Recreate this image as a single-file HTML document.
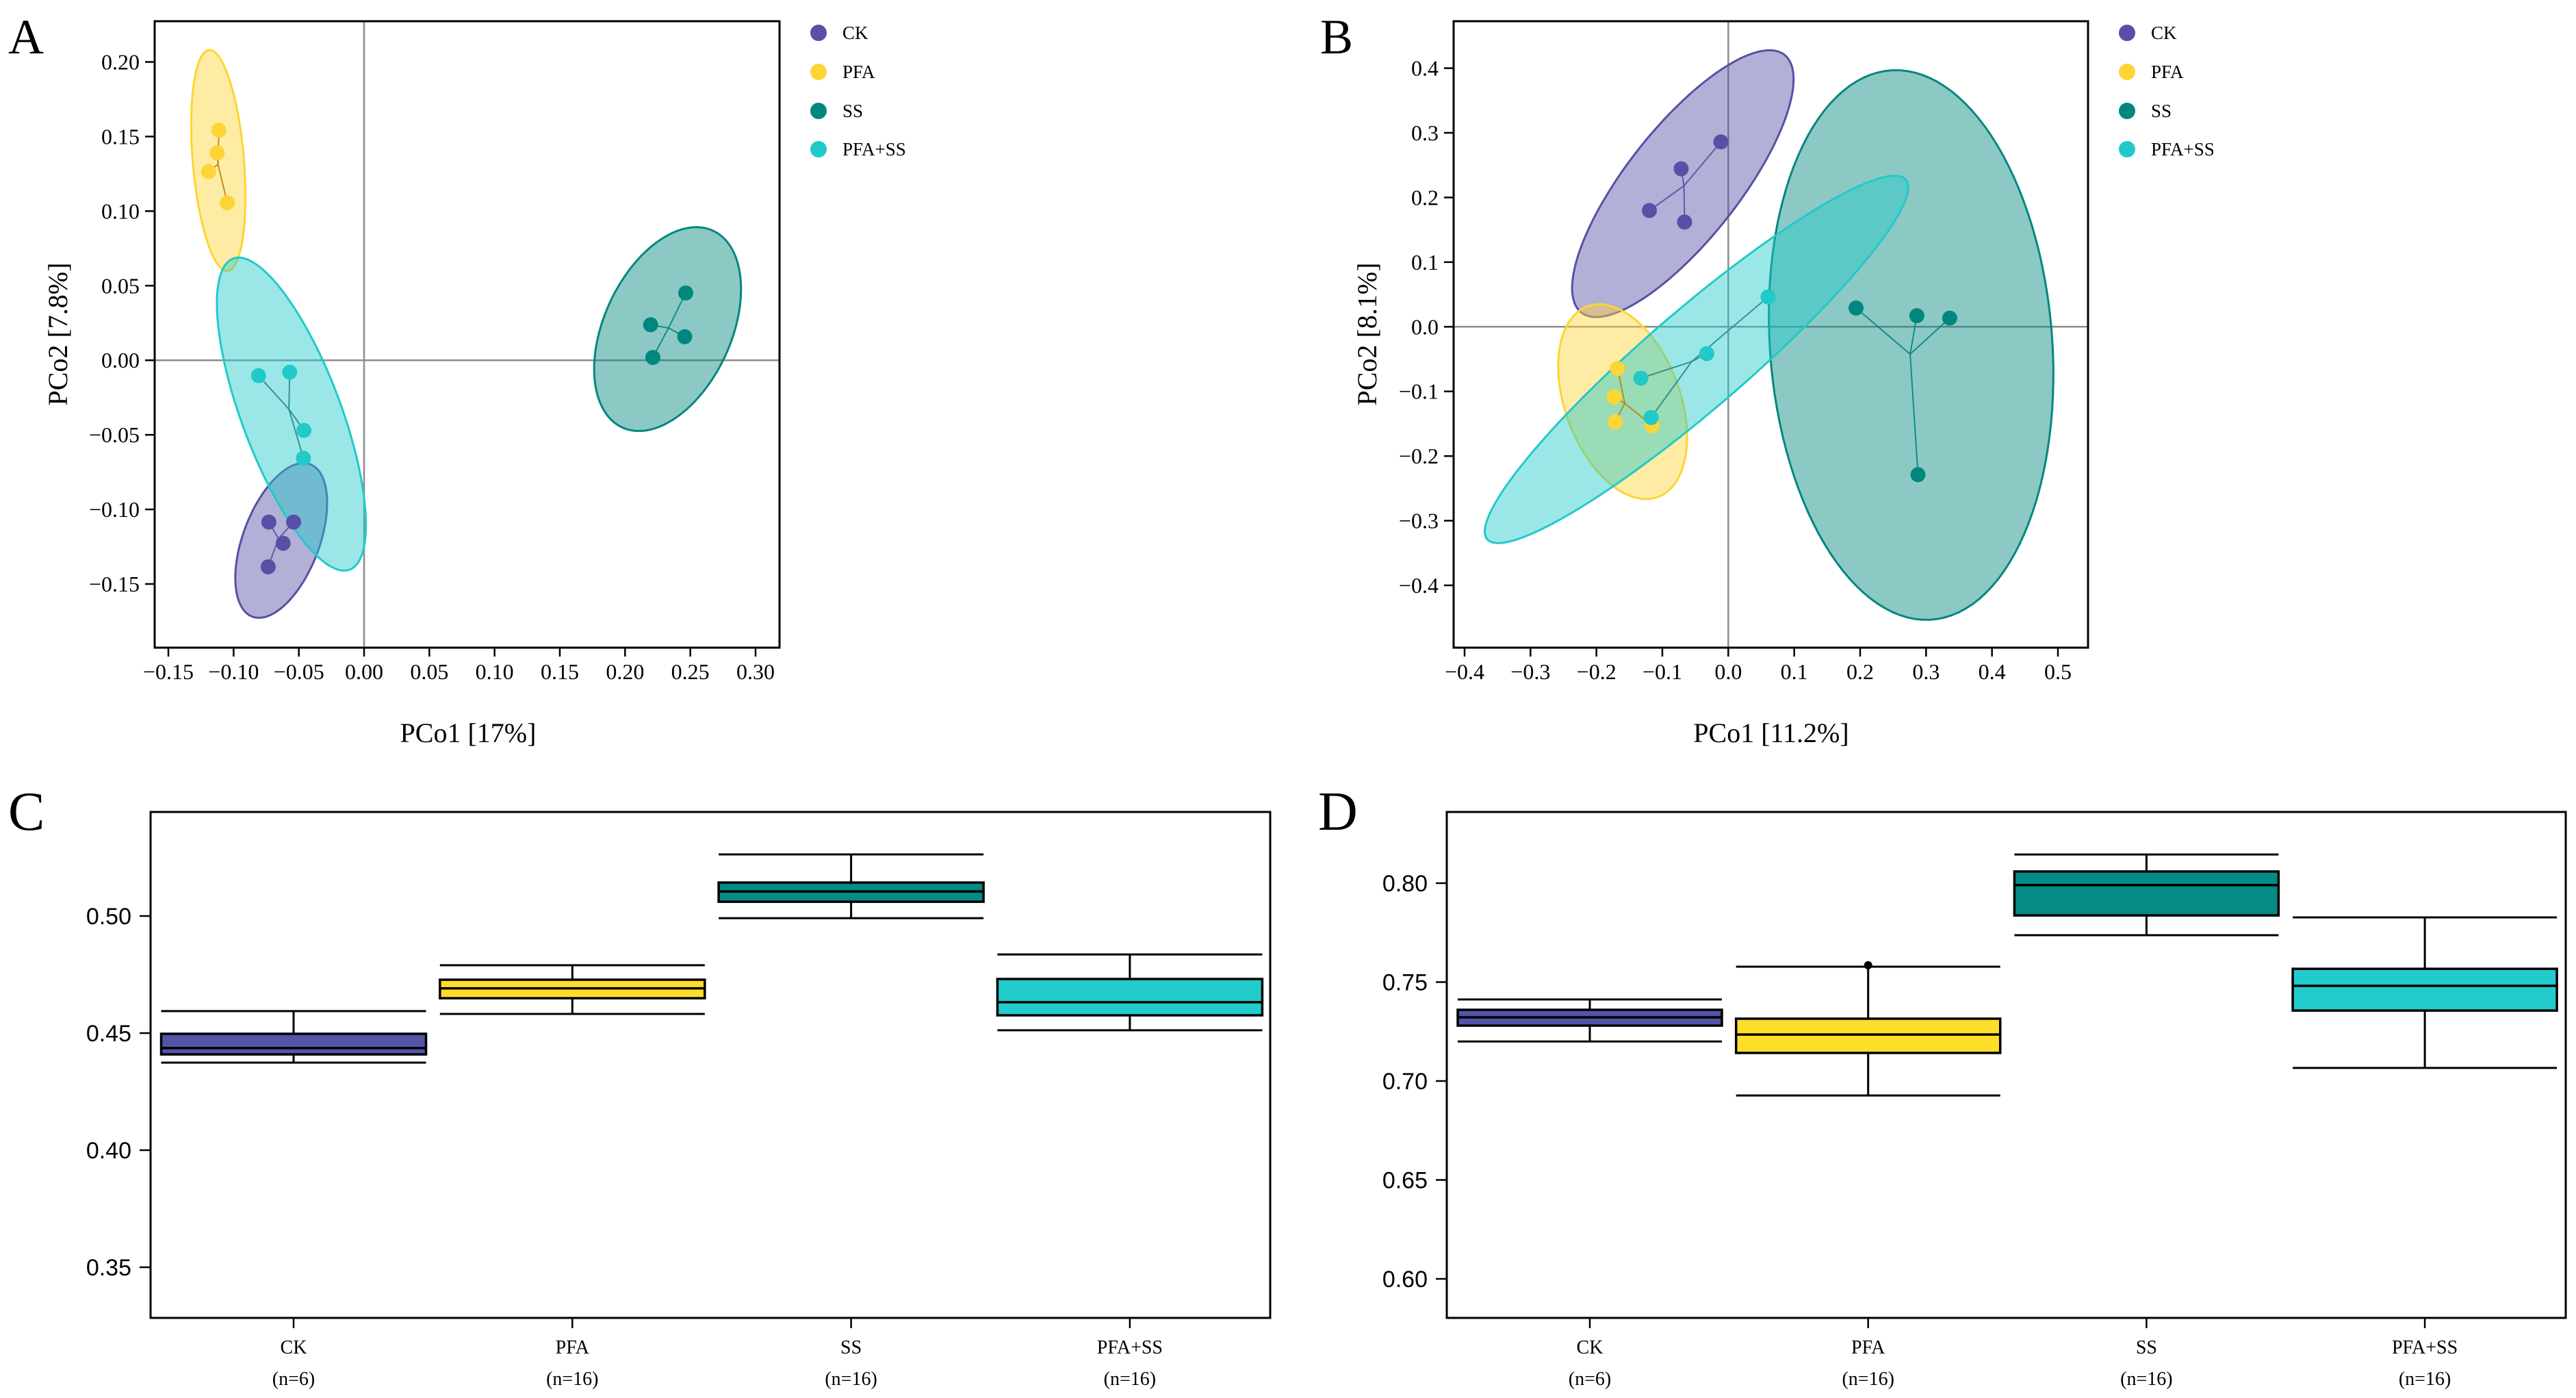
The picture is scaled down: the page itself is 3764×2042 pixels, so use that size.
<!DOCTYPE html>
<html><head><meta charset="utf-8">
<style>html,body{margin:0;padding:0;background:#fff}svg{display:block}</style>
</head><body>
<svg id="fig" width="3764" height="2042" viewBox="0 0 3764 2042" xmlns="http://www.w3.org/2000/svg"></svg>
<script>
const groups = ["CK","PFA","SS","PFA+SS"];
const colors = ["#5750a6","#fdd535","#00877f","#22c9c9"];
const fills = ["#5750a6","#fdd535","#00877f","#22c9c9"];
const boxColors = ["#5353a8","#ffde2a","#058a85","#22cccc"];
const nLabels = ["(n=6)","(n=16)","(n=16)","(n=16)"];

// Panel A data
const aXTicks = [-0.15,-0.10,-0.05,0.00,0.05,0.10,0.15,0.20,0.25,0.30];
const aYTicks = [0.20,0.15,0.10,0.05,0.00,-0.05,-0.10,-0.15];
const aPtsX = [[-0.073,-0.054,-0.062,-0.0735],[-0.1113,-0.1126,-0.1191,-0.1048],[0.2465,0.2196,0.2457,0.2213],[-0.0809,-0.057,-0.0461,-0.0465]];
const aPtsY = [[-0.1085,-0.1085,-0.1227,-0.1385],[0.1542,0.1391,0.1265,0.1056],[0.0451,0.0238,0.0158,0.0019],[-0.0103,-0.008,-0.047,-0.0657]];
const aEllC = [[-0.0635,-0.1208],[-0.1117,0.1339],[0.2326,0.0209],[-0.0557,-0.0361]];
const aEllV1 = [[-0.02065,-0.0515],[0.00696,-0.0741],[0.03065,0.0673],[0.0435,-0.1046]];
const aEllV2 = [[0.0285,-0.00628],[0.0196,0.00097],[0.0472,-0.0118],[0.037,0.0084]];

// Panel B data
const bXTicks = [-0.4,-0.3,-0.2,-0.1,0.0,0.1,0.2,0.3,0.4,0.5];
const bYTicks = [0.4,0.3,0.2,0.1,0.0,-0.1,-0.2,-0.3,-0.4];
const bPtsX = [[-0.0112,-0.0715,-0.1197,-0.0663],[-0.168,-0.1731,-0.1714,-0.1154],[0.1938,0.286,0.3359,0.2877],[0.0603,-0.0327,-0.1326,-0.1171]];
const bPtsY = [[0.286,0.2444,0.1798,0.162],[-0.0646,-0.1085,-0.1471,-0.153],[0.029,0.0171,0.0134,-0.2288],[0.0461,-0.0416,-0.0795,-0.1404]];
const bEllC = [[-0.0689,0.2214],[-0.1602,-0.1159],[0.2773,-0.0282],[-0.0482,-0.0505]];
const bEllV1 = [[0.1499,0.2021],[0.0474,-0.1493],[-0.0284,0.425],[0.3158,0.2799]];
const bEllV2 = [[0.0758,-0.0418],[0.0855,0.0202],[0.2139,0.0107],[0.0586,-0.0493]];

// Panel C data (whisker low, q1, median, q3, whisker high)
const cTicks = [0.50,0.45,0.40,0.35];
const cLow = [0.4374,0.4582,0.4991,0.4512];
const cQ1 = [0.4409,0.4649,0.5061,0.4576];
const cMed = [0.4436,0.4691,0.5105,0.4632];
const cQ3 = [0.4497,0.4728,0.5143,0.4731];
const cHigh = [0.4594,0.479,0.5263,0.4836];

// Panel D data
const dTicks = [0.80,0.75,0.70,0.65,0.60];
const dLow = [0.72,0.6927,0.7737,0.7066];
const dQ1 = [0.728,0.7142,0.7837,0.7356];
const dMed = [0.7322,0.7235,0.799,0.7481];
const dQ3 = [0.736,0.7315,0.8059,0.7567];
const dHigh = [0.7412,0.7578,0.8145,0.7827];
const dOutY = [null,0.7585,null,null];

const NS="http://www.w3.org/2000/svg";
const svg=document.getElementById('fig');
function mk(tag,attrs,parent){const e=document.createElementNS(NS,tag);for(const k in attrs)e.setAttribute(k,attrs[k]);(parent||svg).appendChild(e);return e;}
function txt(s,attrs,parent){const e=mk('text',attrs,parent);e.textContent=s;return e;}
const SERIF='"Liberation Serif", serif', SANS='"Liberation Sans", sans-serif';

function pcoa(P){
  const g=mk('g',{});
  
  
  const X=v=>P.x0tickPx+(v-P.xt0)/(P.xt1-P.xt0)*(P.x1tick-P.x0tickPx);
  const Y=v=>P.y0tickPx+(v-P.yt0)/(P.yt1-P.yt0)*(P.y1tick-P.y0tickPx);
  const zl=mk('line',{x1:P.L,x2:P.R,y1:Y(0),y2:Y(0),stroke:'#8c8c8c','stroke-width':2.5},g);
  
  const zv=mk('line',{x1:X(0),x2:X(0),y1:P.T,y2:P.B,stroke:'#8c8c8c','stroke-width':2.5},g);
  
  for(let i=0;i<4;i++){
    let d='';
    for(let k=0;k<=120;k++){const t=k/120*2*Math.PI;
      const vx=P.ec[i][0]+Math.cos(t)*P.v1[i][0]+Math.sin(t)*P.v2[i][0];
      const vy=P.ec[i][1]+Math.cos(t)*P.v1[i][1]+Math.sin(t)*P.v2[i][1];
      d+=(k?'L':'M')+X(vx).toFixed(1)+','+Y(vy).toFixed(1);}
    const e=mk('path',{d:d+'Z',fill:fills[i],'fill-opacity':0.45,stroke:colors[i],'stroke-width':3},g);
    
    
  }
  for(let i=0;i<4;i++){
    const xs=P.px[i],ys=P.py[i];
    const mx=xs.reduce((a,b)=>a+b,0)/xs.length,my=ys.reduce((a,b)=>a+b,0)/ys.length;
    for(let j=0;j<xs.length;j++){
      const l=mk('line',{x1:X(mx),y1:Y(my),x2:X(xs[j]),y2:Y(ys[j]),stroke:colors[i],'stroke-width':2,'stroke-opacity':0.9},g);
      
      if(i===1){l.setAttribute('stroke','#b8860b');}
      if(i===3){l.setAttribute('stroke','#2a8a8a');}
    }
    for(let j=0;j<xs.length;j++){
      const c=mk('circle',{cx:X(xs[j]),cy:Y(ys[j]),r:11,fill:colors[i]},g);
      
      
    }
  }
  const fr=mk('rect',{x:P.L,y:P.T,width:P.R-P.L,height:P.B-P.T,fill:'none',stroke:'#000','stroke-width':3},g);
  
  P.xticks.forEach(v=>{
    const t=mk('line',{x1:X(v),x2:X(v),y1:P.B,y2:P.B+13,stroke:'#000','stroke-width':2.5},g);
    
    const lab=txt((v<0?'\u2212':'')+Math.abs(v).toFixed(P.xd),{x:X(v),y:P.B+46,'font-family':SERIF,'font-size':32,'text-anchor':'middle'},g);
    
  });
  P.yticks.forEach(v=>{
    const t=mk('line',{x1:P.L-14,x2:P.L,y1:Y(v),y2:Y(v),stroke:'#000','stroke-width':2.5},g);
    
    const lab=txt((v<0?'\u2212':'')+Math.abs(v).toFixed(P.yd),{x:P.L-22,y:Y(v)+11,'font-family':SERIF,'font-size':32,'text-anchor':'end'},g);
    
  });
  const xt=txt(P.xtitle,{x:P.xtx,y:1084,'font-family':SERIF,'font-size':40,'text-anchor':'middle'},g);
  
  const yt=txt(P.ytitle,{x:0,y:0,'font-family':SERIF,'font-size':40,'text-anchor':'middle',transform:`translate(${P.ytx},488) rotate(-90)`},g);
  
  const pl=txt(P.letter,{x:P.lx,y:78,'font-family':SERIF,'font-size':72},g);
  
  const lg=mk('g',{},g);
  
  const ly=[48,105,162,218];
  for(let i=0;i<4;i++){
    const c=mk('circle',{cx:P.legx,cy:ly[i],r:12,fill:colors[i]},lg);
    
    const t=txt(groups[i],{x:P.legx+35,y:ly[i]+9,'font-family':SERIF,'font-size':27},lg);
    
  }
}

pcoa({name:'panel-a-pcoa',L:226,R:1139,T:31,B:946,
  xt0:-0.15,xt1:0.30,x0tickPx:246,x1tick:1104,yt0:0.20,yt1:-0.15,y0tickPx:90.5,y1tick:853,
  ec:aEllC,v1:aEllV1,v2:aEllV2,px:aPtsX,py:aPtsY,xticks:aXTicks,yticks:aYTicks,xd:2,yd:2,
  xtitle:'PCo1 [17%]',ytitle:'PCo2 [7.8%]',xtx:684,ytx:98,letter:'A',lx:12,legx:1196});
pcoa({name:'panel-b-pcoa',L:2124,R:3051,T:31,B:946,
  xt0:-0.4,xt1:0.5,x0tickPx:2140,x1tick:3007,yt0:0.4,yt1:-0.4,y0tickPx:99.6,y1tick:855,
  ec:bEllC,v1:bEllV1,v2:bEllV2,px:bPtsX,py:bPtsY,xticks:bXTicks,yticks:bYTicks,xd:1,yd:1,
  xtitle:'PCo1 [11.2%]',ytitle:'PCo2 [8.1%]',xtx:2588,ytx:2011,letter:'B',lx:1929,legx:3108});

function boxplot(P){
  const g=mk('g',{});
  
  
  const Y=v=>P.y0px+(v-P.t0)/(P.t1-P.t0)*(P.y1px-P.y0px);
  const X=i=>P.c0+i*P.step;
  const hw=P.bw/2;
  for(let i=0;i<4;i++){
    const cx=X(i);
    const w1=mk('line',{x1:cx,x2:cx,y1:Y(P.high[i]),y2:Y(P.q3[i]),stroke:'#000','stroke-width':3},g);
    
    const w2=mk('line',{x1:cx,x2:cx,y1:Y(P.q1[i]),y2:Y(P.low[i]),stroke:'#000','stroke-width':3},g);
    
    const c1=mk('line',{x1:cx-hw,x2:cx+hw,y1:Y(P.high[i]),y2:Y(P.high[i]),stroke:'#000','stroke-width':3},g);
    
    const c2=mk('line',{x1:cx-hw,x2:cx+hw,y1:Y(P.low[i]),y2:Y(P.low[i]),stroke:'#000','stroke-width':3},g);
    
    const b=mk('rect',{x:cx-hw,y:Y(P.q3[i]),width:P.bw,height:Y(P.q1[i])-Y(P.q3[i]),fill:boxColors[i],stroke:'#000','stroke-width':3.5},g);
    
    
    const m=mk('line',{x1:cx-hw,x2:cx+hw,y1:Y(P.med[i]),y2:Y(P.med[i]),stroke:'#000','stroke-width':3.5},g);
    
    if(P.out && P.out[i]!==null){
      const o=mk('circle',{cx:cx,cy:Y(P.out[i]),r:6,fill:'#000'},g);
      
    }
    const t=mk('line',{x1:cx,x2:cx,y1:P.B,y2:P.B+15,stroke:'#000','stroke-width':2.5},g);
    
    const l1=txt(groups[i],{x:cx,y:1977,'font-family':SERIF,'font-size':28,'text-anchor':'middle'},g);
    
    const l2=txt(nLabels[i],{x:cx,y:2023,'font-family':SERIF,'font-size':28,'text-anchor':'middle'},g);
    
  }
  const fr=mk('rect',{x:P.L,y:P.T,width:P.R-P.L,height:P.B-P.T,fill:'none',stroke:'#000','stroke-width':3},g);
  
  P.ticks.forEach(v=>{
    const t=mk('line',{x1:P.L-16,x2:P.L,y1:Y(v),y2:Y(v),stroke:'#000','stroke-width':2.5},g);
    
    const lab=txt(v.toFixed(2),{x:P.L-28,y:Y(v)+12,'font-family':SANS,'font-size':34,'text-anchor':'end'},g);
    
  });
  const pl=txt(P.letter,{x:P.lx,y:1212,'font-family':SERIF,'font-size':80},g);
  
}
boxplot({name:'panel-c-boxplot',L:220,R:1856,T:1186,B:1925,t0:0.50,t1:0.35,y0px:1338,y1px:1851,
  c0:429,step:407.3,bw:387,low:cLow,q1:cQ1,med:cMed,q3:cQ3,high:cHigh,out:null,ticks:cTicks,letter:'C',lx:12});
boxplot({name:'panel-d-boxplot',L:2114,R:3749,T:1186,B:1925,t0:0.80,t1:0.60,y0px:1290,y1px:1868,
  c0:2323,step:406.7,bw:386,low:dLow,q1:dQ1,med:dMed,q3:dQ3,high:dHigh,out:dOutY,ticks:dTicks,letter:'D',lx:1926});
</script>
</body></html>
